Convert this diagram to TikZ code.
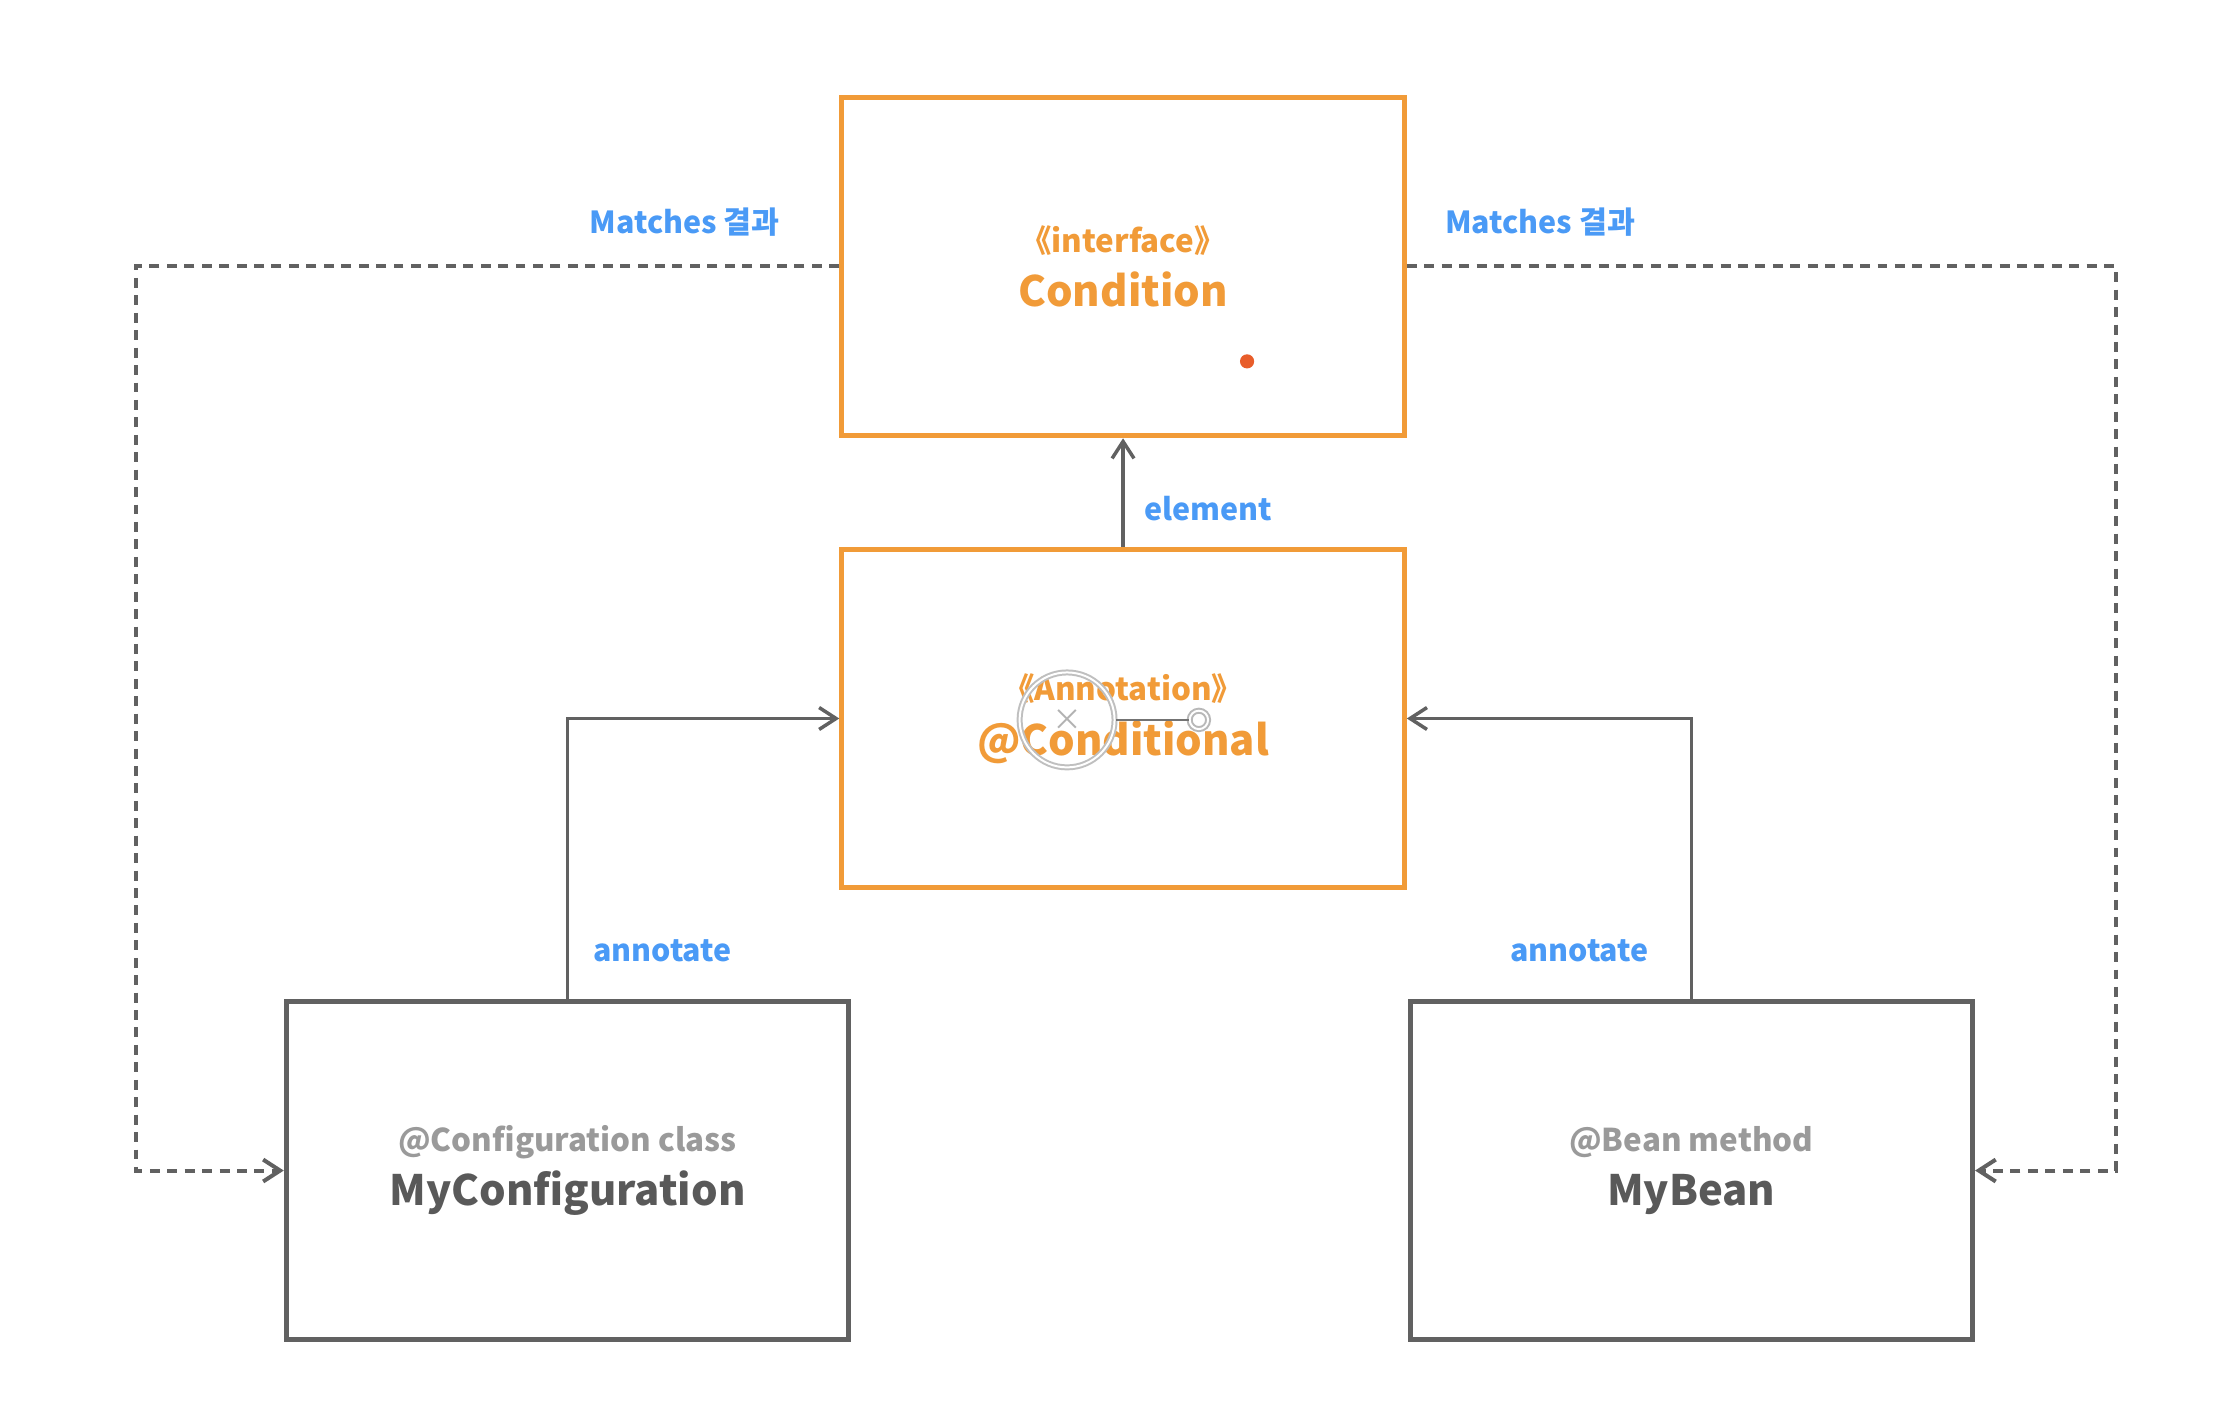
\documentclass[tikz,border=0pt]{standalone}
\usepackage{fontspec}
\setmainfont{Noto Sans CJK KR}
\usetikzlibrary{arrows.meta}

\definecolor{boxorange}{HTML}{F19B38}
\definecolor{linegray}{HTML}{616161}
\definecolor{textgray}{HTML}{595959}
\definecolor{subgray}{HTML}{9A9A9A}
\definecolor{labelblue}{HTML}{4A9AF6}
\definecolor{dotred}{HTML}{E85D2A}

\newcommand{\boxsub}[1]{{\fontsize{6.3}{8}\selectfont #1}}

\tikzset{
  link/.style={draw=linegray,line width=0.7pt,-{Straight Barb[length=3.4pt,width=4.4pt]}},
  result/.style={link,line width=0.8pt,dash pattern=on 2pt off 1.5pt}
}

\begin{document}
\begin{tikzpicture}
  \useasboundingbox[fill=white] (0,0) rectangle (15.68,-10.01);

  \begin{scope}[every node/.style={rectangle,draw,line width=1pt,minimum width=3.97cm,minimum height=2.39cm,inner sep=0pt,align=center,font=\fontsize{8.4}{11}\selectfont\bfseries}]
    \node[draw=boxorange,text=boxorange] (cond) at (7.925,-1.88) {\boxsub{《interface》}\\Condition};
    \node[draw=boxorange,text=boxorange] (anno) at (7.925,-5.07) {\boxsub{《Annotation》}\\@Conditional};
    \node[draw=linegray,text=textgray]   (cfg)  at (4.005,-8.26) {\boxsub{\color{subgray}@Configuration class}\\MyConfiguration};
    \node[draw=linegray,text=textgray]   (bean) at (11.935,-8.26) {\boxsub{\color{subgray}@Bean method}\\MyBean};
  \end{scope}

  \begin{scope}[every node/.style={text=labelblue,inner sep=0pt,font=\fontsize{6.1}{8}\selectfont\bfseries}]
    \node[anchor=east] (mleft)  at (5.51,-1.57)  {Matches 결과};
    \node[anchor=west] (mright) at (10.19,-1.57) {Matches 결과};
    \node[anchor=west] (elem)   at (8.07,-3.59)  {element};
    \node[anchor=west] (aleft)  at (4.18,-6.71)  {annotate};
    \node[anchor=east] (aright) at (11.64,-6.71) {annotate};
  \end{scope}

  \coordinate (lside) at (0.96,-5);
  \coordinate (rside) at (14.93,-5);

  \draw[link] (anno) -- (cond);
  \draw[link] (cfg.north) |- (anno.west);
  \draw[link] (bean.north) |- (anno.east);
  \draw[result] (cond.west) -| (lside) |- (cfg.west);
  \draw[result] (cond.east) -| (rside) |- (bean.east);

  \node[circle,fill=dotred,minimum size=0.1cm,inner sep=0pt] (dot) at (8.80,-2.55) {};

  \node[circle,draw=black!25,line width=0.4pt,double=white,double distance=0.4pt,minimum size=0.67cm,inner sep=0pt] (ring) at (7.53,-5.08) {};
  \node[circle,draw=black!28,line width=0.4pt,double=white,double distance=0.4pt,minimum size=0.13cm,inner sep=0pt] (knob) at (8.46,-5.08) {};
  \node[text=black!30,inner sep=0pt,font=\fontsize{6}{6}\selectfont] (mark) at (ring.center) {×};
  \draw[black!55,line width=0.4pt] (ring) -- (knob);
\end{tikzpicture}
\end{document}
